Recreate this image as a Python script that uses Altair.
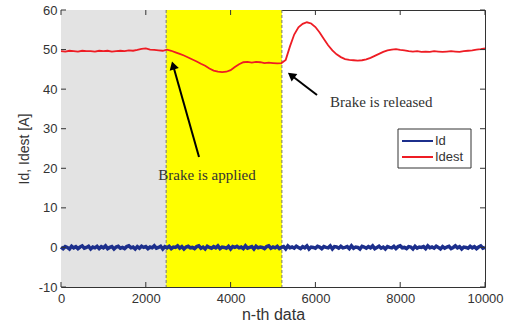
import altair as alt
import pandas as pd

# ---------------- data ----------------
red_idx = list(range(0, 10001, 100))
idest_vals = [
    49.6, 49.5, 49.7, 49.6, 49.5, 49.7, 49.6, 49.6, 49.5, 49.7,
    49.6, 49.7, 49.5, 49.6, 49.7, 49.6, 49.8, 49.7, 49.9, 50.2,
    50.3, 50.0, 49.9, 49.8, 49.7, 50.0, 49.7, 49.3, 48.9, 48.5,
    48.0, 47.5, 47.0, 46.4, 45.9, 45.2, 44.7, 44.4, 44.3, 44.4,
    44.8, 45.6, 46.3, 46.8, 46.9, 46.7, 46.9, 46.8, 46.6, 46.7,
    46.6, 46.5, 46.6, 47.4, 50.8, 53.8, 55.6, 56.5, 56.9, 56.6,
    55.7, 54.3, 52.7, 51.1, 49.8, 48.8, 48.1, 47.6, 47.4, 47.3,
    47.2, 47.3, 47.5, 47.9, 48.4, 48.9, 49.4, 49.8, 50.0, 50.1,
    49.9, 49.8, 49.6, 49.5, 49.6, 49.4, 49.5, 49.4, 49.6, 49.5,
    49.4, 49.5, 49.6, 49.5, 49.4, 49.6, 49.7, 49.8, 50.0, 50.1,
    50.3,
]

blue_idx = list(range(0, 10001, 50))
id_vals = [
    0.1, -0.3, 0.2, 0.0, -0.4, 0.3, -0.1, 0.2, -0.3, 0.1, 0.4, -0.2, 0.0, 0.3, -0.4, 0.1, -0.1, 0.3, -0.3, 0.2,
    -0.1, 0.4, -0.3, 0.0, 0.2, -0.4, 0.1, 0.3, -0.2, 0.0, -0.3, 0.2, 0.4, -0.1, 0.1, -0.4, 0.2, -0.2, 0.3, 0.0,
    0.2, -0.3, 0.1, -0.1, 0.4, -0.2, 0.0, 0.3, -0.4, 0.2, -0.1, 0.3, -0.3, 0.1, 0.0, 0.4, -0.2, 0.2, -0.4, 0.1,
    0.3, -0.1, 0.0, -0.3, 0.2, 0.4, -0.2, 0.1, -0.4, 0.3, 0.0, -0.2, 0.2, -0.1, 0.4, -0.3, 0.1, 0.0, -0.2, 0.3,
    -0.4, 0.2, 0.0, 0.3, -0.1, 0.1, -0.3, 0.4, -0.2, 0.0, 0.2, -0.4, 0.3, -0.1, 0.1, 0.0, -0.3, 0.2, 0.4, -0.2,
    0.1, -0.1, 0.3, -0.3, 0.0, 0.2, -0.4, 0.4, -0.1, 0.1, -0.2, 0.3, 0.0, -0.3, 0.2, -0.1, 0.4, -0.4, 0.1, 0.0,
    -0.2, 0.3, 0.1, -0.3, 0.2, 0.0, -0.1, 0.4, -0.4, 0.2, 0.1, -0.2, 0.3, -0.1, 0.0, 0.2, -0.3, 0.4, -0.2, 0.1,
    0.0, -0.4, 0.3, 0.1, -0.2, 0.2, -0.1, 0.4, -0.3, 0.0, 0.3, -0.2, 0.1, -0.4, 0.2, 0.0, -0.1, 0.3, -0.3, 0.2,
    0.4, -0.1, 0.0, -0.3, 0.2, 0.1, -0.4, 0.3, -0.2, 0.1, 0.0, 0.2, -0.3, 0.4, -0.1, 0.1, -0.2, 0.3, 0.0, -0.4,
    0.2, -0.2, 0.1, 0.3, -0.3, 0.0, 0.4, -0.1, 0.2, -0.4, 0.1, 0.0, -0.2, 0.3, -0.1, 0.2, -0.3, 0.1, 0.4, -0.2,
    0.0,
]

region_start = [0, 2480]
region_end = [2480, 5210]
region_color = ["#e3e3e3", "#ffff00"]
event_x = [2480, 5210]

x_ticks = [0, 2000, 4000, 6000, 8000, 10000]
y_ticks = [-10, 0, 10, 20, 30, 40, 50, 60]

ann_text = ["Brake is applied", "Brake is released"]
ann_text_x = [3443, 6344]
ann_text_y = [18.3, 36.75]
arrow_tail_x = [3255, 6038]
arrow_tail_y = [22.85, 38.5]
arrow_head_x = [2644, 5429]
arrow_head_y = [46.0, 43.5]
arrow_angle = [344, 307]

legend_labels = ["Id", "Idest"]
RED = "#ee1c24"
BLUE = "#1c2f8c"

W, H = 424, 277
FONT = "Liberation Sans"
SERIF = "Liberation Serif"

xs = alt.Scale(domain=[0, 10000], nice=False, zero=False)
ys = alt.Scale(domain=[-10, 60], nice=False, zero=False)

df_red = pd.DataFrame({"n": red_idx, "v": idest_vals})
df_blue = pd.DataFrame({"n": blue_idx, "v": id_vals})
df_reg = pd.DataFrame({"s": region_start, "e": region_end, "c": region_color})
df_ev = pd.DataFrame({"x": event_x})
df_xt = pd.DataFrame({"t": x_ticks})
df_yt = pd.DataFrame({"t": y_ticks})
df_ann = pd.DataFrame({"txt": ann_text, "x": ann_text_x, "y": ann_text_y})
df_arr = pd.DataFrame({"x": arrow_tail_x, "y": arrow_tail_y, "x2": arrow_head_x,
                       "y2": arrow_head_y, "ang": arrow_angle})
one = pd.DataFrame({"a": [0]})

xaxis = alt.Axis(values=x_ticks, title="n-th data", labelFont=FONT, labelFontSize=13,
                 labelColor="#333333", titleFont=FONT, titleFontSize=16, titleFontWeight="normal",
                 titleColor="#333333", ticks=False, domain=False, grid=False, labelPadding=5,
                 titlePadding=1, labelFlush=False, labelOverlap=False,
                 labelExpr="'' + datum.value")
yaxis = alt.Axis(values=y_ticks, title="Id, Idest [A]", labelFont=FONT, labelFontSize=13,
                 labelColor="#333333", titleFont=FONT, titleFontSize=14, titleFontWeight="normal",
                 titleColor="#333333", ticks=False, domain=False, grid=False, labelPadding=4,
                 titlePadding=7, labelFlush=False, labelOverlap=False,
                 labelExpr="'' + datum.value")

regions = alt.Chart(df_reg).mark_rect().encode(
    x=alt.X("s:Q", scale=xs, axis=xaxis), x2="e:Q",
    y=alt.datum(-10, scale=ys, axis=yaxis), y2=alt.datum(60),
    color=alt.Color("c:N", scale=None),
)

events = alt.Chart(df_ev).mark_rule(color="#777777", strokeDash=[3, 2], strokeWidth=1).encode(
    x=alt.X("x:Q", scale=xs, axis=xaxis)
)

blue = alt.Chart(df_blue).mark_line(color=BLUE, strokeWidth=3.5).encode(
    x=alt.X("n:Q", scale=xs, axis=xaxis), y=alt.Y("v:Q", scale=ys, axis=yaxis)
)
red = alt.Chart(df_red).mark_line(color=RED, strokeWidth=1.8).encode(
    x=alt.X("n:Q", scale=xs, axis=xaxis), y=alt.Y("v:Q", scale=ys, axis=yaxis)
)

arrows = alt.Chart(df_arr).mark_rule(color="black", strokeWidth=2).encode(
    x=alt.X("x:Q", scale=xs, axis=xaxis), y=alt.Y("y:Q", scale=ys, axis=yaxis), x2="x2:Q", y2="y2:Q"
)
heads = alt.Chart(df_arr).mark_point(shape="triangle-up", filled=True, color="black",
                                     size=90, opacity=1).encode(
    x=alt.X("x2:Q", scale=xs, axis=xaxis), y=alt.Y("y2:Q", scale=ys, axis=yaxis),
    angle=alt.Angle("ang:Q", scale=None)
)
ann1 = alt.Chart(df_ann.iloc[[0]]).mark_text(font=SERIF, fontSize=15, color="#333333",
                                             align="center", baseline="middle").encode(
    x=alt.X("x:Q", scale=xs, axis=xaxis), y=alt.Y("y:Q", scale=ys, axis=yaxis), text="txt:N")
ann2 = alt.Chart(df_ann.iloc[[1]]).mark_text(font=SERIF, fontSize=15, color="#333333",
                                             align="left", baseline="middle").encode(
    x=alt.X("x:Q", scale=xs, axis=xaxis), y=alt.Y("y:Q", scale=ys, axis=yaxis), text="txt:N")

TL = 5
xt_bot = alt.Chart(df_xt).mark_rule(color="#333333").encode(
    x=alt.X("t:Q", scale=xs, axis=xaxis), y=alt.value(H), y2=alt.value(H - TL))
xt_top = alt.Chart(df_xt).mark_rule(color="#333333").encode(
    x=alt.X("t:Q", scale=xs, axis=xaxis), y=alt.value(0), y2=alt.value(TL))
yt_left = alt.Chart(df_yt).mark_rule(color="#333333").encode(
    y=alt.Y("t:Q", scale=ys, axis=yaxis), x=alt.value(0), x2=alt.value(TL))
yt_right = alt.Chart(df_yt).mark_rule(color="#333333").encode(
    y=alt.Y("t:Q", scale=ys, axis=yaxis), x=alt.value(W), x2=alt.value(W - TL))

# legend box (drawn by hand)
lg_box = alt.Chart(one).mark_rect(fill="white", stroke="#333333", strokeWidth=1).encode(
    x=alt.value(337), x2=alt.value(410), y=alt.value(119), y2=alt.value(158))
lg_l1 = alt.Chart(one).mark_rule(color=BLUE, strokeWidth=2).encode(
    x=alt.value(341), x2=alt.value(372), y=alt.value(131))
lg_l2 = alt.Chart(one).mark_rule(color=RED, strokeWidth=2).encode(
    x=alt.value(341), x2=alt.value(372), y=alt.value(147))
lg_t1 = alt.Chart(one).mark_text(text=legend_labels[0], font=FONT, fontSize=13, color="#333333",
                                 align="left", baseline="middle").encode(
    x=alt.value(374), y=alt.value(131))
lg_t2 = alt.Chart(one).mark_text(text=legend_labels[1], font=FONT, fontSize=13, color="#333333",
                                 align="left", baseline="middle").encode(
    x=alt.value(374), y=alt.value(147))

chart = alt.layer(
    regions, events, blue, red, arrows, heads, ann1, ann2,
    xt_bot, xt_top, yt_left, yt_right,
    lg_box, lg_l1, lg_l2, lg_t1, lg_t2,
).properties(
    width=W, height=H,
    autosize=alt.AutoSizeParams(type="none"),
    padding={"left": 61, "top": 10, "right": 22, "bottom": 37},
    background="white",
).configure_view(stroke="#333333", strokeWidth=1).configure_axis(labelOverlap=False)

chart.save("out.html", embed_options={"renderer": "svg", "actions": False})
